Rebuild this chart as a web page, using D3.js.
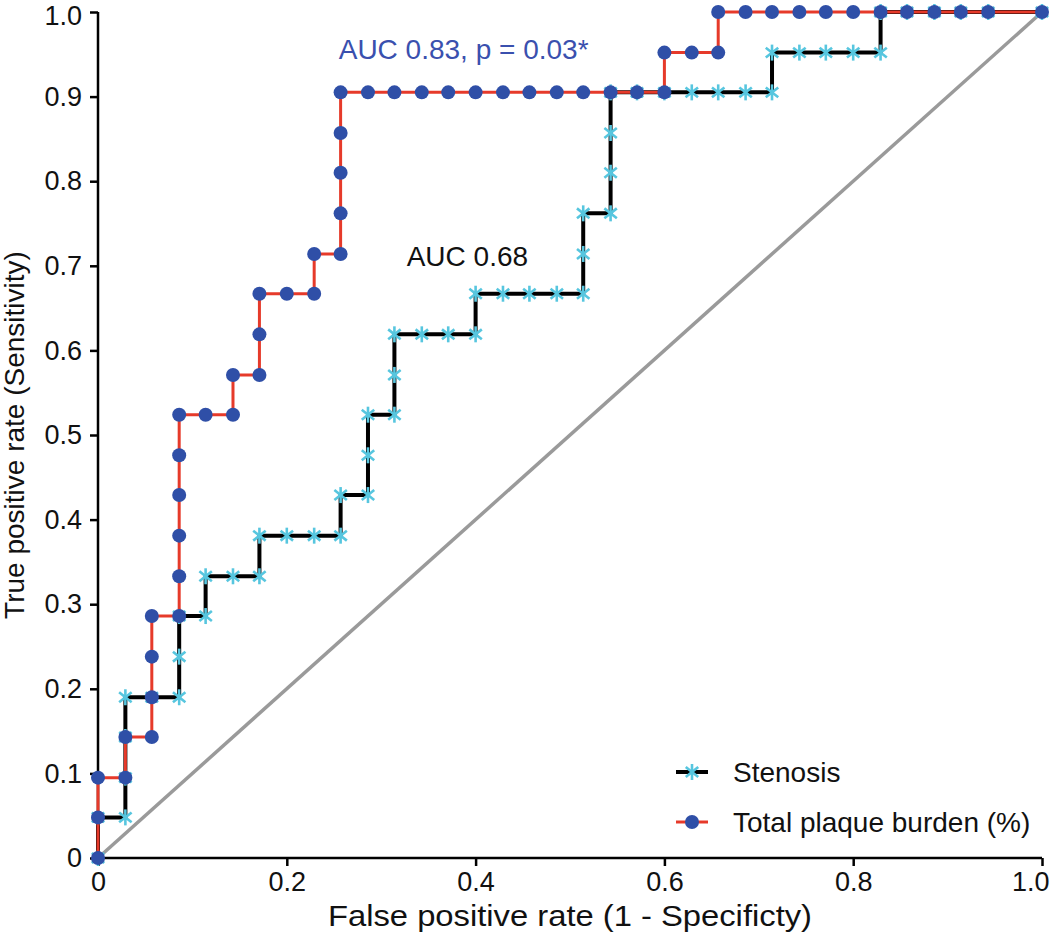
<!DOCTYPE html>
<html>
<head>
<meta charset="utf-8">
<script src="https://cdn.jsdelivr.net/npm/d3@7"></script>
<style>
  html, body { margin: 0; padding: 0; background: #fff; }
  svg text { font-family: "Liberation Sans", Arial, Helvetica, sans-serif; }
</style>
</head>
<body>
<svg id="chart" width="1050" height="942"></svg>
<script>
// ---- data ----
const xTicks = [0, 0.2, 0.4, 0.6, 0.8, 1.0];
const xTickLabels = ["0", "0.2", "0.4", "0.6", "0.8", "1.0"];
const yTicks = [0, 0.1, 0.2, 0.3, 0.4, 0.5, 0.6, 0.7, 0.8, 0.9, 1.0];
const yTickLabels = ["0", "0.1", "0.2", "0.3", "0.4", "0.5", "0.6", "0.7", "0.8", "0.9", "1.0"];

const seriesNames = ["Stenosis", "Total plaque burden (%)"];

const stenosisFPR = [0,0,.029,.029,.029,.029,.057,.086,.086,.086,.114,.114,.143,.171,.171,.2,.229,.257,.257,.286,.286,.286,.314,.314,.314,.343,.371,.4,.4,.429,.457,.486,.514,.514,.514,.543,.543,.543,.543,.571,.6,.629,.657,.686,.714,.714,.743,.771,.8,.829,.829,.857,.886,.914,.943,1];
const stenosisTPR = [0,.048,.048,.095,.143,.19,.19,.19,.238,.286,.286,.333,.333,.333,.381,.381,.381,.381,.429,.429,.476,.524,.524,.571,.619,.619,.619,.619,.667,.667,.667,.667,.667,.714,.762,.762,.81,.857,.905,.905,.905,.905,.905,.905,.905,.952,.952,.952,.952,.952,1,1,1,1,1,1];

const plaqueFPR = [0,0,0,.029,.029,.057,.057,.057,.057,.086,.086,.086,.086,.086,.086,.114,.143,.143,.171,.171,.171,.2,.229,.229,.257,.257,.257,.257,.257,.286,.314,.343,.371,.4,.429,.457,.486,.514,.543,.571,.6,.6,.629,.657,.657,.686,.714,.743,.771,.8,.829,.857,.886,.914,.943,1];
const plaqueTPR = [0,.048,.095,.095,.143,.143,.19,.238,.286,.286,.333,.381,.429,.476,.524,.524,.524,.571,.571,.619,.667,.667,.667,.714,.714,.762,.81,.857,.905,.905,.905,.905,.905,.905,.905,.905,.905,.905,.905,.905,.905,.952,.952,.952,1,1,1,1,1,1,1,1,1,1,1,1];

const annotations = [
  { text: "AUC 0.83, p = 0.03*", x: 0.255, y: 0.944, color: "#3a50ae" },
  { text: "AUC 0.68", x: 0.327, y: 0.70, color: "#111" }
];

// ---- layout ----
const svg = d3.select("#chart");
const x = d3.scaleLinear().domain([0, 1]).range([98, 1042]);
const y = d3.scaleLinear().domain([0, 1]).range([858, 12]);

const FONT = 28, TICKFONT = 27;
const colBlue = "#2f4fa7", colRed = "#e63a2a", colCyan = "#57c6df", colGrey = "#9a9a9a";

// axes
const xAxis = d3.axisBottom(x).tickValues(xTicks).tickFormat((d, i) => xTickLabels[i]).tickSizeOuter(0).tickSize(8).tickPadding(6);
const yAxis = d3.axisLeft(y).tickValues(yTicks).tickFormat((d, i) => yTickLabels[i]).tickSizeOuter(0).tickSize(8).tickPadding(8);

const gx = svg.append("g").attr("transform", `translate(0,${y(0)})`).call(xAxis);
const gy = svg.append("g").attr("transform", `translate(${x(0)},0)`).call(yAxis);
[gx, gy].forEach(g => {
  g.select(".domain").attr("stroke", "#000").attr("stroke-width", 2.5);
  g.selectAll(".tick line").attr("stroke", "#000").attr("stroke-width", 2.5);
  g.selectAll(".tick text").attr("font-size", TICKFONT).attr("fill", "#111")
    .style("font-family", '"Liberation Sans", Arial, sans-serif');
});
gy.select(".domain").attr("d", `M0,${y(0)}V${y(1)}`);
gx.select(".domain").attr("d", `M${x(0)},0H${x(1)}`);
// keep the last x label inside the frame, as in the reference
gx.selectAll(".tick text").filter(d => d === 1).attr("text-anchor", "end").attr("dx", 1049 - x(1));
// keep the top y label inside the frame
gy.selectAll(".tick text").filter(d => d === 1).attr("dy", "0.45em");

// axis titles
svg.append("text").attr("x", (x(0) + x(1)) / 2).attr("y", 926)
  .attr("text-anchor", "middle").attr("font-size", 30).attr("fill", "#111")
  .attr("textLength", 484).attr("lengthAdjust", "spacingAndGlyphs")
  .text("False positive rate (1 - Specificty)");
svg.append("text").attr("transform", `translate(24,${(y(0) + y(1)) / 2}) rotate(-90)`)
  .attr("text-anchor", "middle").attr("font-size", FONT).attr("fill", "#111")
  .text("True positive rate (Sensitivity)");

// diagonal reference
svg.append("line").attr("x1", x(0)).attr("y1", y(0)).attr("x2", x(1)).attr("y2", y(1))
  .attr("stroke", colGrey).attr("stroke-width", 3.5);

const plot = svg.append("g");
const stepLine = d3.line().x(d => x(d[0])).y(d => y(d[1]));
const sten = stenosisFPR.map((v, i) => [v, stenosisTPR[i]]);
const plaq = plaqueFPR.map((v, i) => [v, plaqueTPR[i]]);

function asterisk(g, cx, cy, s) {
  const a = g.append("g").attr("transform", `translate(${cx},${cy})`)
    .attr("stroke", colCyan).attr("stroke-width", 2.6).attr("stroke-linecap", "butt");
  a.append("line").attr("x1", 0).attr("y1", -s).attr("x2", 0).attr("y2", s);
  const dx = s * 0.78, dy = s * 0.62;
  a.append("line").attr("x1", -dx).attr("y1", -dy).attr("x2", dx).attr("y2", dy);
  a.append("line").attr("x1", -dx).attr("y1", dy).attr("x2", dx).attr("y2", -dy);
}

// stenosis: black line + cyan asterisks
plot.append("path").datum(sten).attr("d", stepLine).attr("fill", "none")
  .attr("stroke", "#000").attr("stroke-width", 4).attr("stroke-linejoin", "miter");
sten.forEach(d => asterisk(plot, x(d[0]), y(d[1]), 8));

// plaque burden: red line + blue dots
plot.append("path").datum(plaq).attr("d", stepLine).attr("fill", "none")
  .attr("stroke", colRed).attr("stroke-width", 3);
plot.selectAll("circle.pl").data(plaq).enter().append("circle").attr("class", "pl")
  .attr("cx", d => x(d[0])).attr("cy", d => y(d[1])).attr("r", 7).attr("fill", colBlue);

// annotations
annotations.forEach(a => {
  svg.append("text").attr("x", x(a.x)).attr("y", y(a.y)).attr("font-size", FONT)
    .attr("fill", a.color).text(a.text);
});

// legend
const legY = [772, 822];
const lg = svg.append("g");
lg.append("line").attr("x1", 676).attr("x2", 708).attr("y1", legY[0]).attr("y2", legY[0]).attr("stroke", "#000").attr("stroke-width", 4);
asterisk(lg, 692, legY[0], 8);
lg.append("line").attr("x1", 676).attr("x2", 708).attr("y1", legY[1]).attr("y2", legY[1]).attr("stroke", colRed).attr("stroke-width", 3);
lg.append("circle").attr("cx", 692).attr("cy", legY[1]).attr("r", 7).attr("fill", colBlue);
seriesNames.forEach((n, i) => {
  lg.append("text").attr("x", 733).attr("y", legY[i] + 10).attr("font-size", FONT).attr("fill", "#111").text(n);
});
</script>
</body>
</html>
